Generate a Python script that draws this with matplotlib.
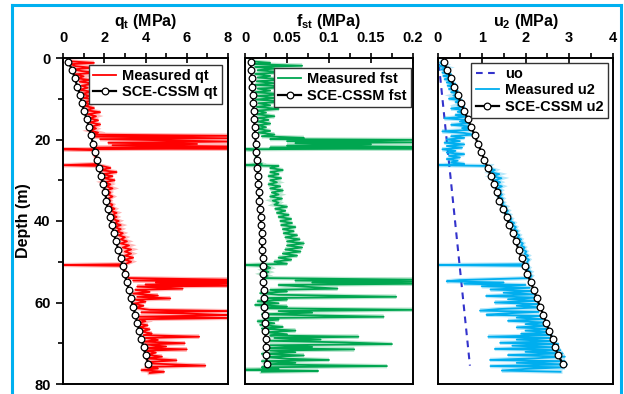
import matplotlib
matplotlib.use("Agg")
import matplotlib.pyplot as plt
from matplotlib.ticker import MultipleLocator
from matplotlib.lines import Line2D

plt.rcParams['font.family'] = ['Liberation Sans', 'DejaVu Sans']
plt.rcParams['font.weight'] = 'bold'
plt.rcParams['mathtext.fontset'] = 'custom'
plt.rcParams['mathtext.rm'] = 'Liberation Sans:bold'
plt.rcParams['mathtext.bf'] = 'Liberation Sans:bold'
plt.rcParams['mathtext.it'] = 'Liberation Sans:bold'

# ---------------- data ----------------
sce_depth = [1, 3, 5, 7, 9, 11, 13, 15, 17, 19, 21, 23, 25, 27, 29, 31, 33, 35, 37, 39,
             41, 43, 45, 47, 49, 51, 53, 55, 57, 59, 61, 63, 65, 67, 69, 71, 73, 75]
sce_qt = [0.26, 0.45, 0.58, 0.69, 0.82, 0.92, 1.03, 1.15, 1.26, 1.36, 1.45, 1.55, 1.65, 1.75,
          1.84, 1.96, 2.05, 2.10, 2.17, 2.28, 2.38, 2.47, 2.57, 2.68, 2.80, 2.89, 2.99, 3.09,
          3.20, 3.30, 3.39, 3.51, 3.60, 3.70, 3.80, 3.91, 4.01, 4.14]
sce_fst = [0.0068, 0.0074, 0.0080, 0.0086, 0.0092, 0.0098, 0.0104, 0.0110, 0.0116, 0.0122,
           0.0128, 0.0134, 0.0141, 0.0147, 0.0153, 0.0160, 0.0166, 0.0172, 0.0178, 0.0185,
           0.0191, 0.0197, 0.0201, 0.0205, 0.0209, 0.0213, 0.0217, 0.0220, 0.0224, 0.0228,
           0.0231, 0.0235, 0.0239, 0.0242, 0.0246, 0.0250, 0.0254, 0.0258]
sce_u2 = [0.13, 0.21, 0.29, 0.37, 0.45, 0.52, 0.60, 0.68, 0.76, 0.84, 0.91, 0.99, 1.06, 1.14,
          1.21, 1.29, 1.36, 1.40, 1.49, 1.57, 1.63, 1.71, 1.78, 1.84, 1.91, 1.99, 2.04, 2.12,
          2.19, 2.26, 2.33, 2.41, 2.47, 2.54, 2.62, 2.67, 2.75, 2.85]

uo_depth = [1.5, 75.5]
uo_val = [0.02, 0.73]

qt_depth = [0.8, 1.2, 1.5, 2.0, 2.4, 2.8, 3.2, 3.6, 4.0, 4.5, 5.0, 5.4, 5.8, 6.3, 6.8, 7.3, 7.8,
            8.3, 8.8, 9.3, 9.8, 10.3, 10.8, 11.3, 11.8, 12.3, 12.8, 13.3, 13.8, 14.3, 14.8,
            15.3, 15.8, 16.3, 16.8, 17.3, 17.8, 18.3, 18.8, 19.1, 19.3, 19.7, 19.9, 20.5, 20.8,
            21.1, 21.4, 21.7, 22.0, 22.2, 22.4, 22.6, 23.0, 23.5, 24.0, 24.5, 25.0, 25.5, 26.0,
            26.3, 26.5, 27.0, 27.5, 28.0, 28.5, 29.0, 29.5, 30.0, 30.5, 31.0, 31.5, 32.0, 32.5,
            33.0, 33.5, 34.0, 34.5, 35.0, 35.5, 36.0, 36.5, 37.0, 37.5, 38.0, 38.5, 39.0, 39.5,
            40.0, 40.5, 41.0, 41.5, 42.0, 42.5, 43.0, 43.5, 44.0, 44.5, 45.0, 45.5, 46.0, 46.5,
            47.0, 47.5, 48.0, 48.5, 49.0, 49.5, 50.0, 50.6, 50.8, 51.0, 51.5, 52.0, 52.5, 53.0,
            53.5, 54.0, 54.4, 54.6, 54.9, 55.1, 55.4, 55.6, 55.9, 56.1, 56.6, 56.9, 57.4, 57.8,
            58.3, 58.6, 59.0, 59.3, 59.8, 60.3, 60.8, 61.3, 61.8, 62.1, 62.4, 62.8, 63.1, 63.5,
            63.8, 64.1, 64.6, 65.1, 65.6, 66.1, 66.6, 67.1, 67.6, 68.0, 68.4, 68.7, 69.2, 69.6,
            70.0, 70.3, 70.8, 71.2, 71.5, 71.8, 72.3, 72.8, 73.3, 73.7, 74.2, 74.6, 75.0, 75.5,
            75.8, 76.2, 76.6, 77.0, 77.3]
qt_val = [0.3, 1.5, 0.4, 0.6, 1.4, 0.5, 0.9, 1.6, 0.6, 1.0, 0.7, 1.3, 0.8, 1.5, 0.9, 1.2, 0.8,
          1.4, 0.9, 1.3, 1.0, 1.6, 1.0, 1.3, 1.1, 1.5, 1.1, 1.8, 1.2, 1.6, 1.3,
          1.7, 1.3, 1.8, 1.4, 1.6, 1.3, 1.7, 1.4, 8.0, 1.5, 8.0, 1.8, 8.0, 2.2,
          6.5, 2.4, 8.0, 1.6, 8.0, 0.0, 1.5, 1.5, 1.6, 1.55, 1.6, 1.65, 1.6, 1.7,
          0.0, 1.9, 2.3, 1.8, 2.6, 1.9, 2.4, 2.0, 2.5, 2.0, 2.3, 2.1, 2.4, 2.1,
          2.3, 2.2, 2.4, 2.2, 2.3, 2.2, 2.4, 2.3, 2.5, 2.3, 2.6, 2.4, 2.6, 2.4,
          2.7, 2.5, 2.8, 2.5, 2.8, 2.6, 2.9, 2.7, 3.0, 2.8, 3.1, 2.8, 3.2, 2.9,
          3.3, 3.0, 3.3, 3.0, 3.4, 3.0, 3.3, 3.0, 0.0, 2.9, 3.0, 3.0, 3.0, 3.1,
          3.1, 3.2, 8.0, 3.4, 8.0, 4.5, 8.0, 4.0, 8.0, 3.6, 5.8, 3.5, 4.2, 3.4,
          4.6, 3.6, 5.2, 3.5, 4.0, 3.4, 3.9, 3.5, 4.2, 8.0, 3.8, 6.5, 8.0, 3.6,
          8.0, 3.7, 4.0, 3.6, 4.1, 3.7, 4.2, 3.8, 4.3, 3.9, 6.6, 4.0, 4.6, 3.9,
          5.9, 4.0, 5.0, 3.9, 6.0, 4.0, 4.5, 4.1, 4.8, 4.0, 5.5, 4.1, 4.4, 6.9,
          4.0, 4.6, 3.8, 4.9, 4.2]

fst_depth = [0.8, 1.2, 1.5, 1.9, 2.2, 2.6, 3.0, 3.5, 3.9, 4.4, 4.8, 5.3, 5.7, 6.2, 6.6, 7.1, 7.5,
             8.0, 8.4, 8.9, 9.3, 9.8, 10.2, 10.7, 11.1, 11.6, 12.0, 12.5, 12.9, 13.4, 13.8, 14.3,
             14.7, 15.2, 15.6, 16.1, 16.5, 17.0, 17.4, 17.9, 18.3, 18.8, 19.2, 19.6, 19.9, 20.1,
             20.4, 20.7, 20.9, 21.2, 21.5, 21.8, 22.0, 22.2, 22.4, 22.6, 23.0, 23.5, 24.0, 24.5,
             25.0, 25.5, 26.0, 26.3, 26.5, 27.0, 27.5, 28.0, 28.5, 29.0, 29.5, 30.0, 30.5, 31.0,
             31.5, 32.0, 32.5, 33.0, 33.5, 34.0, 34.5, 35.0, 35.5, 36.0, 36.5, 37.0, 37.5, 38.0,
             38.5, 39.0, 39.5, 40.0, 40.5, 41.0, 41.5, 42.0, 42.5, 43.0, 43.5, 44.0, 44.5, 45.0,
             45.5, 46.0, 46.5, 47.0, 47.5, 48.0, 48.5, 49.0, 49.5, 50.0, 50.5, 50.8, 51.0, 51.5,
             52.0, 52.5, 53.0, 53.5, 54.0, 54.4, 54.6, 54.9, 55.1, 55.4, 55.7, 56.1, 56.6, 56.9,
             57.3, 57.7, 58.1, 58.6, 58.9, 59.3, 59.7, 60.2, 60.6, 61.0, 61.4, 61.8, 62.1, 62.5,
             62.9, 63.5, 63.8, 64.2, 64.6, 65.1, 65.5, 66.0, 66.4, 66.9, 67.3, 67.8, 68.1, 68.4,
             68.7, 69.1, 69.4, 69.8, 70.2, 70.5, 70.9, 71.2, 71.5, 71.8, 72.2, 72.6, 73.0, 73.4,
             73.8, 74.1, 74.4, 74.8, 75.2, 75.6, 75.9, 76.3, 76.5, 76.8, 77.0]
fst_val = [0.006, 0.03, 0.01, 0.068, 0.012, 0.035, 0.015, 0.045, 0.012, 0.03, 0.015, 0.05, 0.014,
           0.035, 0.012, 0.055, 0.015, 0.03, 0.012, 0.045, 0.015, 0.035, 0.013, 0.05, 0.016, 0.03,
           0.014, 0.04, 0.015, 0.025, 0.014, 0.035, 0.016, 0.028, 0.015, 0.03, 0.016, 0.025, 0.015,
           0.03, 0.016, 0.035, 0.02, 0.07, 0.03, 0.2, 0.05, 0.2, 0.06, 0.15, 0.05, 0.2, 0.03, 0.2,
           0.0, 0.015, 0.012, 0.015, 0.013, 0.014, 0.014, 0.015, 0.02, 0.0, 0.04, 0.03, 0.045,
           0.03, 0.04, 0.028, 0.043, 0.03, 0.038, 0.028, 0.042, 0.03, 0.045, 0.032, 0.04, 0.03,
           0.044, 0.033, 0.04, 0.035, 0.05, 0.036, 0.048, 0.038, 0.052, 0.04, 0.055, 0.042, 0.056,
           0.043, 0.06, 0.045, 0.058, 0.046, 0.062, 0.048, 0.065, 0.05, 0.07, 0.05, 0.068, 0.048,
           0.066, 0.045, 0.062, 0.04, 0.055, 0.035, 0.05, 0.0, 0.025, 0.03, 0.022, 0.028, 0.02,
           0.027, 0.022, 0.2, 0.06, 0.2, 0.08, 0.2, 0.04, 0.07, 0.11, 0.03, 0.05, 0.018, 0.04,
           0.18, 0.025, 0.05, 0.015, 0.04, 0.012, 0.05, 0.02, 0.2, 0.04, 0.08, 0.02, 0.165, 0.025,
           0.04, 0.015, 0.035, 0.018, 0.045, 0.02, 0.06, 0.025, 0.05, 0.03, 0.135, 0.035, 0.09,
           0.03, 0.12, 0.175, 0.03, 0.08, 0.025, 0.13, 0.03, 0.06, 0.02, 0.07, 0.025, 0.05, 0.10,
           0.02, 0.06, 0.025, 0.169, 0.02, 0.04, 0.0, 0.087, 0.02]

u2_depth = [0.8, 1.2, 1.6, 2.0, 2.4, 2.8, 3.2, 3.6, 4.0, 4.4, 4.8, 5.2, 5.6, 6.0, 6.4, 6.8, 7.2,
            7.6, 8.0, 8.4, 8.8, 9.2, 9.6, 10.0, 10.4, 10.8, 11.2, 11.6, 12.0, 12.4, 12.8, 13.2,
            13.6, 14.0, 14.4, 14.8, 15.2, 15.6, 16.0, 16.4, 16.8, 17.2, 17.6, 18.0, 18.4, 18.8,
            19.2, 19.6, 20.0, 20.4, 20.8, 21.2, 21.6, 22.0, 22.4, 22.8, 23.2, 23.6, 24.0, 24.4,
            24.8, 25.2, 25.6, 26.0, 26.3, 26.5, 27.0, 27.5, 28.0, 28.5, 29.0, 29.5, 30.0, 30.5,
            31.0, 31.5, 32.0, 32.5, 33.0, 33.5, 34.0, 34.5, 35.0, 35.5, 36.0, 36.5, 37.0, 37.5,
            38.0, 38.5, 39.0, 39.5, 40.0, 40.5, 41.0, 41.5, 42.0, 42.5, 43.0, 43.5, 44.0, 44.5,
            45.0, 45.5, 46.0, 46.5, 47.0, 47.5, 48.0, 48.5, 49.0, 49.5, 50.0, 50.6, 50.8, 51.0,
            51.5, 52.0, 52.5, 53.0, 53.5, 54.0, 54.5, 54.8, 55.1, 55.4, 55.7, 56.0, 56.4, 56.8,
            57.2, 57.6, 58.0, 58.4, 58.8, 59.2, 59.6, 60.0, 60.4, 60.8, 61.2, 61.6, 62.0, 62.3,
            62.7, 63.0, 63.3, 63.7, 64.1, 64.5, 64.9, 65.3, 65.7, 66.1, 66.5, 66.9, 67.3, 67.7,
            68.0, 68.4, 68.7, 69.1, 69.5, 69.9, 70.2, 70.6, 71.0, 71.4, 71.7, 72.1, 72.5, 72.9,
            73.3, 73.7, 74.1, 74.4, 74.8, 75.2, 75.6, 75.9, 76.3, 76.7, 77.0]
u2_val = [0.1, 0.05, 0.15, 0.03, 0.2, 0.08, 0.25, 0.1, 0.3, 0.12, 0.32, 0.15, 0.35, 0.2, 0.4, 0.22,
          0.43, 0.25, 0.45, 0.3, 0.5, 0.35, 0.5, 0.25, 0.55, 0.4, 0.58, 0.45, 0.6, 0.3, 0.62, 0.45,
          0.66, 0.4, 0.66, 0.15, 0.7, 0.5, 0.72, 0.3, 0.74, 0.55, 0.78, 0.1, 0.6, 0.8, 0.3, 0.6,
          0.2, 0.5, 0.15, 0.6, 0.2, 0.55, 0.1, 0.4, 0.2, 0.6, 0.25, 0.5, 0.2, 0.45, 0.3, 0.6, 0.0,
          1.19, 1.15, 1.3, 1.2, 1.4, 1.25, 1.45, 1.3, 1.42, 1.32, 1.46, 1.35, 1.44, 1.38, 1.46,
          1.4, 1.48, 1.42, 1.5, 1.46, 1.56, 1.5, 1.6, 1.55, 1.64, 1.6, 1.68, 1.64, 1.74, 1.7,
          1.78, 1.74, 1.82, 1.78, 1.86, 1.82, 1.9, 1.86, 1.94, 1.9, 1.98, 1.94, 2.02, 1.98, 2.06,
          2.0, 2.08, 2.04, 2.05, 0.0, 2.0, 2.08, 2.04, 2.12, 2.06, 2.14, 2.1, 0.5, 0.2, 1.5, 0.6,
          2.0, 1.0, 2.1, 1.2, 2.2, 1.5, 2.2, 1.1, 2.25, 1.6, 2.3, 1.3, 2.3, 1.8, 2.35, 1.4, 0.96,
          2.3, 1.5, 1.11, 2.35, 1.8, 2.4, 1.6, 2.45, 2.0, 2.5, 1.8, 2.55, 2.0, 2.6, 1.9, 2.6, 1.15,
          2.6, 1.8, 2.7, 1.42, 2.75, 1.7, 2.7, 1.30, 2.8, 2.0, 2.85, 1.6, 2.9, 2.2, 1.19, 2.9, 1.8,
          2.95, 1.2, 2.9, 2.0, 1.46, 2.8]

titles = [r'$\mathbf{q_t}$ (MPa)', r'$\mathbf{f_{st}}$ (MPa)', r'$\mathbf{u_2}$ (MPa)']
xlims = [8, 0.2, 4]
xmajor = [2, 0.05, 1]
xminor = [1, 0.025, 0.5]
xticklabels = [['0', '2', '4', '6', '8'],
               ['0', '0.05', '0.1', '0.15', '0.2'],
               ['0', '1', '2', '3', '4']]

# ---------------- figure ----------------
W, H = 624, 394
fig = plt.figure(figsize=(W / 100, H / 100), dpi=100)
fig.patch.set_facecolor('white')

boxes = [(63, 228), (245, 413), (438, 613)]
top_px, bot_px = 58, 384
axes = []
for (l, r) in boxes:
    ax = fig.add_axes([l / W, 1 - bot_px / H, (r - l) / W, (bot_px - top_px) / H])
    axes.append(ax)

red = '#FF0000'
green = '#00A650'
cyan = '#00AEEF'


def measured(ax, x, y, color, label):
    ax.plot(x, y, color=color, lw=3.0, alpha=0.28, solid_joinstyle='miter')
    return ax.plot(x, y, color=color, lw=1.3, label=label)[0]


def sce(ax, x, y, label):
    return ax.plot(x, y, color='black', lw=1.6, marker='o', ms=4.8, mfc='white',
                   mec='black', mew=0.9, label=label)[0]


measured(axes[0], qt_val, qt_depth, red, 'Measured qt')
sce(axes[0], sce_qt, sce_depth, 'SCE-CSSM qt')

measured(axes[1], fst_val, fst_depth, green, 'Measured fst')
sce(axes[1], sce_fst, sce_depth, 'SCE-CSSM fst')

axes[2].plot(uo_val, uo_depth, color='#3333CC', lw=1.5, ls=(0, (3.2, 2.6)), label='uo')
measured(axes[2], u2_val, u2_depth, cyan, 'Measured u2')
sce(axes[2], sce_u2, sce_depth, 'SCE-CSSM u2')

legend_anchor = [(0.964, 0.979), (0.988, 0.969), (0.971, 0.985)]

for i, ax in enumerate(axes):
    ax.set_xlim(0, xlims[i])
    ax.set_ylim(80, 0)
    ax.xaxis.set_ticks_position('top')
    ax.xaxis.set_label_position('top')
    ax.xaxis.set_major_locator(MultipleLocator(xmajor[i]))
    ax.xaxis.set_minor_locator(MultipleLocator(xminor[i]))
    ax.set_xticks([k * xmajor[i] for k in range(5)])
    ax.set_xticklabels(xticklabels[i])
    ax.tick_params(axis='x', which='major', direction='inout', length=7, width=1.2,
                   pad=6, labelsize=10.5)
    ax.tick_params(axis='x', which='minor', direction='out', length=3.5, width=1.2)
    for lab in ax.get_xticklabels():
        lab.set_fontweight('bold')
    for s in ax.spines.values():
        s.set_linewidth(1.4)
    ax.set_title(titles[i], fontsize=11.5, fontweight='bold', pad=2)
    if i == 0:
        ax.yaxis.set_major_locator(MultipleLocator(20))
        ax.yaxis.set_minor_locator(MultipleLocator(10))
        ax.tick_params(axis='y', which='major', direction='out', length=5, width=1.2,
                       pad=4, labelsize=10.5)
        ax.tick_params(axis='y', which='minor', direction='out', length=3.5, width=1.2)
        ax.set_ylabel('Depth (m)', fontsize=11.5, fontweight='bold', labelpad=2)
    else:
        ax.tick_params(axis='y', which='both', left=False, labelleft=False)
    leg = ax.legend(loc='upper right', bbox_to_anchor=legend_anchor[i], borderaxespad=0,
                    frameon=True, fancybox=False, edgecolor='#333333',
                    framealpha=1, handlelength=1.6, handletextpad=0.4, labelspacing=0.15,
                    borderpad=0.3, numpoints=1, prop={'weight': 'bold', 'size': 10.5})
    leg.get_frame().set_linewidth(1.0)

# light-blue frame around the picture
frame_col = '#00B0F0'
tr = fig.transFigure
for (x0, y0, x1, y1) in [(12 / W, 0, 12 / W, 1 - 5 / H),
                         (12 / W, 1 - 5 / H, 621 / W, 1 - 5 / H),
                         (621 / W, 1 - 5 / H, 621 / W, 0)]:
    fig.add_artist(Line2D([x0, x1], [y0, y1], transform=tr, color=frame_col, lw=2.2))

fig.savefig('out.png', dpi=100)
